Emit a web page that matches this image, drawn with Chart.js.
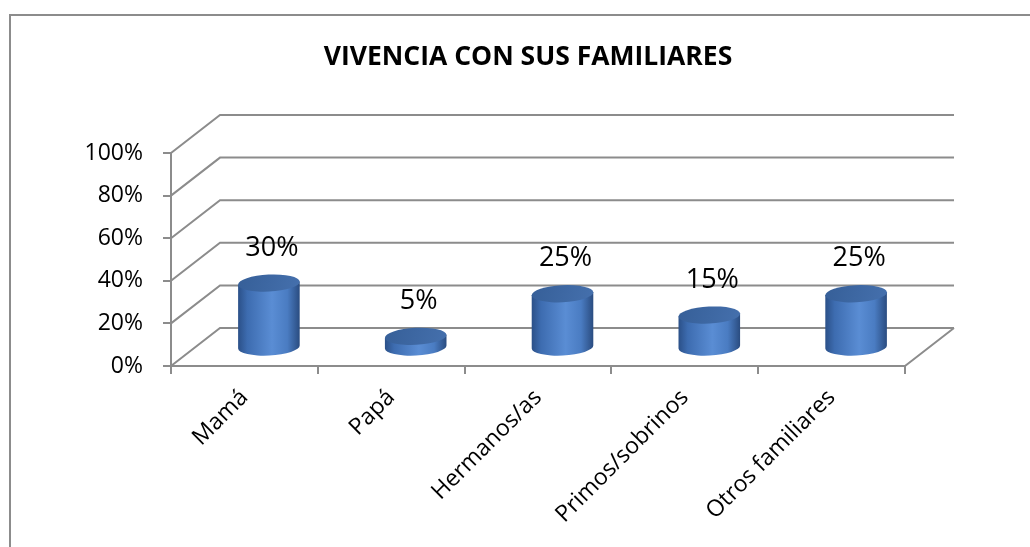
<!DOCTYPE html>
<html>
<head>
<meta charset="utf-8">
<script src="https://cdn.jsdelivr.net/npm/chart.js@4.4.1/dist/chart.umd.min.js"></script>
<style>
  html, body { margin: 0; padding: 0; background: #fff; overflow: hidden; }
  #wrap { position: relative; width: 1030px; height: 547px; }
</style>
</head>
<body>
<div id="wrap"><canvas id="myChart"></canvas></div>
<script>
var chartTitle = "VIVENCIA CON SUS FAMILIARES";
var categories = ["Mamá", "Papá", "Hermanos/as", "Primos/sobrinos", "Otros familiares"];
var percentValues = [30, 5, 25, 15, 25];
var tickValues = [0, 20, 40, 60, 80, 100];

// 3d look
var depthX = 49;
var depthY = -38;
var gridColor = "#8c8c8c";

var frame3d = {
  id: "frame3d",
  beforeDraw: function (chart) {
    var ctx = chart.ctx;
    ctx.save();
    ctx.strokeStyle = gridColor;
    ctx.lineWidth = 2;
    ctx.strokeRect(10, 15, 1100, 700);
    // title
    ctx.fillStyle = "#000";
    ctx.font = "bold 26.5px 'Open Sans'";
    ctx.textAlign = "center";
    ctx.textBaseline = "middle";
    ctx.fillText(chartTitle, 528, 57);
    ctx.restore();
  },
  beforeDatasetsDraw: function (chart) {
    var ctx = chart.ctx;
    var y = chart.scales.y;
    var area = chart.chartArea;
    ctx.save();
    ctx.strokeStyle = gridColor;
    ctx.lineWidth = 2;
    ctx.beginPath();
    tickValues.forEach(function (v) {
      var py = y.getPixelForValue(v);
      // side wall
      ctx.moveTo(area.left, py);
      ctx.lineTo(area.left + depthX, py + depthY);
      // back wall
      ctx.lineTo(area.right + depthX, py + depthY);
    });
    // floor right edge
    var y0 = y.getPixelForValue(0);
    ctx.moveTo(area.right, y0);
    ctx.lineTo(area.right + depthX, y0 + depthY);
    ctx.stroke();
    ctx.restore();
  },
  afterDatasetsDraw: function (chart) {
    var ctx = chart.ctx;
    var y = chart.scales.y;
    var meta = chart.getDatasetMeta(0);
    var baseY = y.getPixelForValue(0) + depthY / 2;
    var ry = 8.5;
    var rot = -0.05;
    ctx.save();
    meta.data.forEach(function (bar, i) {
      var cx = bar.x + depthX / 2;
      var topY = bar.y + depthY / 2;
      var rx = bar.width / 2;
      var ex = rx * Math.cos(rot);
      var ey = rx * Math.sin(rot);

      var side = ctx.createLinearGradient(cx - rx, 0, cx + rx, 0);
      side.addColorStop(0, "#2b5088");
      side.addColorStop(0.15, "#3d6cb0");
      side.addColorStop(0.55, "#5a8dd4");
      side.addColorStop(0.8, "#4a7cc2");
      side.addColorStop(1, "#2a4c80");
      ctx.fillStyle = side;
      ctx.beginPath();
      ctx.moveTo(cx - ex, topY - ey);
      ctx.lineTo(cx - ex, baseY - ey);
      ctx.ellipse(cx, baseY, rx, ry, rot, Math.PI, 0, true);
      ctx.lineTo(cx + ex, topY + ey);
      ctx.closePath();
      ctx.fill();

      var top = ctx.createLinearGradient(cx - rx, topY - ry, cx + rx, topY + ry);
      top.addColorStop(0, "#365f98");
      top.addColorStop(1, "#4570ad");
      ctx.fillStyle = top;
      ctx.beginPath();
      ctx.ellipse(cx, topY, rx, ry, rot, 0, Math.PI * 2);
      ctx.fill();

      ctx.fillStyle = "#000";
      ctx.font = "27px 'Open Sans'";
      ctx.textAlign = "center";
      ctx.textBaseline = "middle";
      ctx.fillText(percentValues[i] + "%", cx + 3, topY - 35);
    });
    ctx.restore();
  }
};

var ctx = document.getElementById("myChart");
var myChart = new Chart(ctx, {
  type: "bar",
  data: {
    labels: categories,
    datasets: [
      {
        data: percentValues,
        backgroundColor: "rgba(0,0,0,0)",
        borderWidth: 0,
        categoryPercentage: 1,
        barPercentage: 0.42,
      },
    ],
  },
  options: {
    responsive: true,
    maintainAspectRatio: false,
    animation: false,
    layout: { padding: { top: 153, right: 125, left: 0, bottom: 0 } },
    plugins: {
      legend: { display: false },
      title: { display: false },
      tooltip: { enabled: false },
    },
    scales: {
      x: {
        afterFit: function (scale) { scale.height = 181; },
        grid: {
          offset: true,
          drawOnChartArea: false,
          tickLength: 8,
          color: gridColor,
          lineWidth: 2,
        },
        border: { color: gridColor, width: 2 },
        ticks: {
          minRotation: 45,
          maxRotation: 45,
          padding: 10,
          color: "#000",
          font: { family: "'Open Sans'", size: 23 },
        },
      },
      y: {
        min: 0,
        max: 100,
        afterFit: function (scale) { scale.width = 171; },
        grid: {
          drawOnChartArea: false,
          tickLength: 8,
          color: gridColor,
          lineWidth: 2,
        },
        border: { color: gridColor, width: 2 },
        ticks: {
          stepSize: 20,
          padding: 20,
          color: "#000",
          font: { family: "'Open Sans'", size: 23 },
          callback: function (v) { return v + "%"; },
        },
      },
    },
  },
  plugins: [frame3d],
});
</script>
</body>
</html>
